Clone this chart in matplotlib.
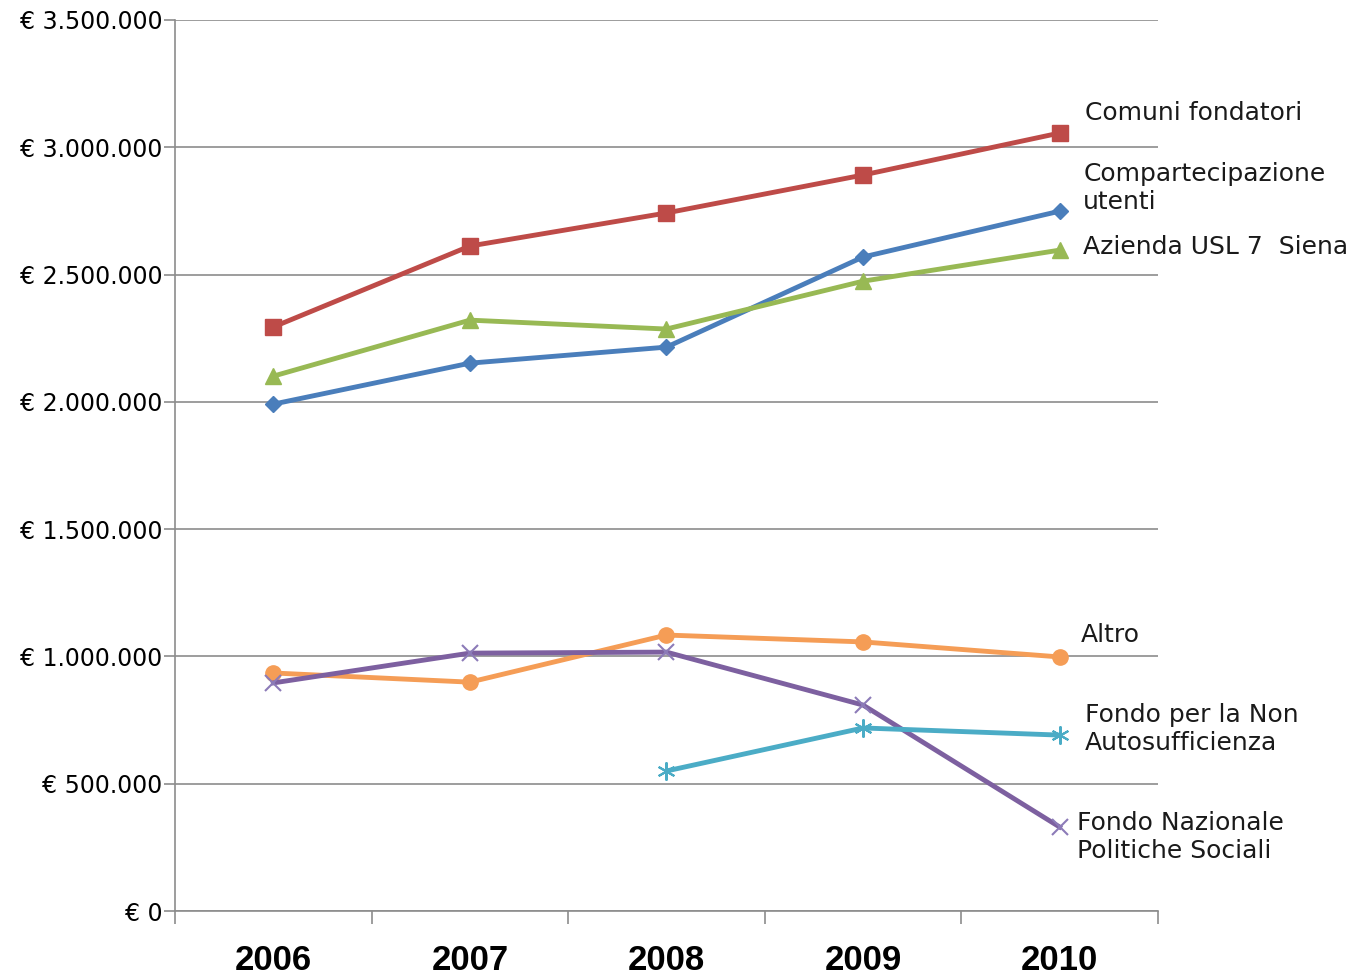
import matplotlib.pyplot as plt
from matplotlib.ticker import FuncFormatter

# Entrate per fonte di finanziamento, 2006-2010
anni = ["2006", "2007", "2008", "2009", "2010"]
comuni_fondatori = [2294000, 2612000, 2742000, 2891000, 3056000]
compartecipazione = [1991000, 2152000, 2215000, 2569000, 2749000]
azienda_usl = [2101000, 2321000, 2286000, 2474000, 2596000]
altro = [935000, 899000, 1084000, 1057000, 998000]
fondo_nazionale = [896000, 1013000, 1017000, 809000, 330000]
fondo_non_auto = [None, None, 550000, 719000, 691000]

x = list(range(len(anni)))

fig = plt.figure(figsize=(13.7, 9.8), dpi=100)
ax = fig.add_axes([0.1277, 0.0704, 0.7175, 0.9092])

lw = 3.5
ax.plot(x, comuni_fondatori, color="#be4b48", lw=lw, marker="s", ms=11, zorder=3)
ax.plot(x, compartecipazione, color="#4a7ebb", lw=lw, marker="D", ms=8, zorder=3)
ax.plot(x, azienda_usl, color="#98b954", lw=lw, marker="^", ms=11, zorder=3)
ax.plot(x, altro, color="#f59d56", lw=lw, marker="o", ms=11, zorder=3)
ax.plot(x, fondo_nazionale, color="#7d60a0", lw=lw, marker="x", ms=12, mew=1.5,
        mec="#8c7bb8", zorder=3)
x_na = [i for i, v in zip(x, fondo_non_auto) if v is not None]
y_na = [v for v in fondo_non_auto if v is not None]
ax.plot(x_na, y_na, color="#4bacc6", lw=lw, marker=(6, 2, 0), ms=13, mew=1.5, zorder=3)

ax.set_xlim(-0.5, 4.5)
ax.set_ylim(0, 3500000)
ax.set_yticks(range(0, 3500001, 500000))
ax.yaxis.set_major_formatter(FuncFormatter(
    lambda v, p: "€ " + f"{int(v):,}".replace(",", ".")))
ax.grid(axis="y", color="#8c8c8c", lw=1.2)
ax.set_axisbelow(True)

ax.set_xticks(x)
ax.set_xticklabels(anni, fontsize=25, fontweight="bold", family="Liberation Sans")
ax.set_xticks([i - 0.5 for i in range(6)], minor=True)
ax.tick_params(axis="x", which="major", length=0, pad=24)
ax.tick_params(axis="x", which="minor", length=9, color="#8c8c8c", width=1.2)
ax.tick_params(axis="y", length=8, color="#8c8c8c", labelsize=17, pad=1, width=1.2)

for s in ["top", "right"]:
    ax.spines[s].set_visible(False)
ax.spines["left"].set_color("#8c8c8c")
ax.spines["bottom"].set_color("#8c8c8c")
ax.spines["left"].set_linewidth(1.2)
ax.spines["bottom"].set_linewidth(1.2)

# etichette delle serie a destra
etichette = [
    ("Comuni fondatori", 4.13, 3134000),
    ("Compartecipazione\nutenti", 4.12, 2840000),
    ("Azienda USL 7  Siena", 4.12, 2608000),
    ("Altro", 4.11, 1084000),
    ("Fondo per la Non\nAutosufficienza", 4.13, 715000),
    ("Fondo Nazionale\nPolitiche Sociali", 4.09, 291000),
]
for testo, xx, yy in etichette:
    ax.text(xx, yy, testo, fontsize=18, va="center", ha="left",
            linespacing=1.25, clip_on=False, color="#1a1a1a")

fig.savefig("out.png")
